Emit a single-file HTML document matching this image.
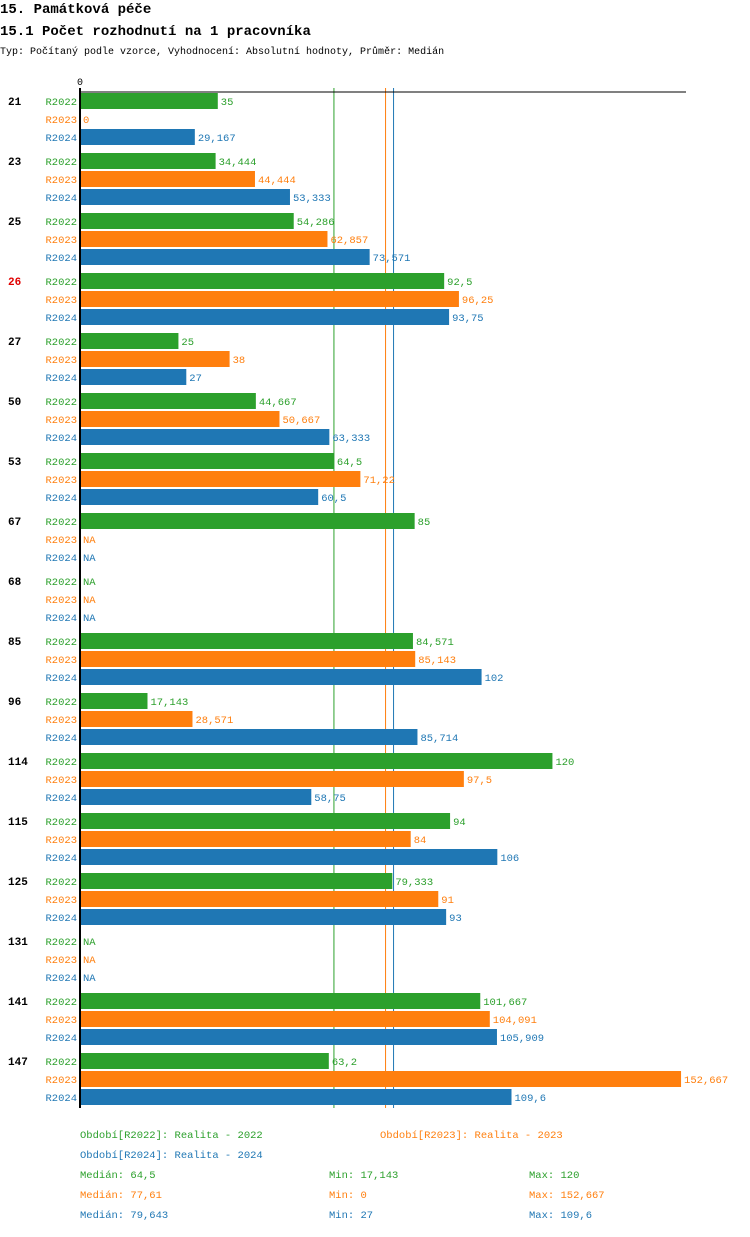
<!DOCTYPE html>
<html><head><meta charset="utf-8"><style>
body{margin:0;background:#fff;width:750px;height:1232px;overflow:hidden}
svg{font-family:"Liberation Mono","DejaVu Sans Mono",monospace}
</style></head><body>
<svg id="c" width="750" height="1232" xmlns="http://www.w3.org/2000/svg">
<text x="0" y="13" font-size="14" font-weight="bold">15. Památková péče</text>
<text x="0" y="35" font-size="14" font-weight="bold">15.1 Počet rozhodnutí na 1 pracovníka</text>
<text x="0" y="54" font-size="10">Typ: Počítaný podle vzorce, Vyhodnocení: Absolutní hodnoty, Průměr: Medián</text>
<g id="g"></g>
</svg>
<script>
const categories=["21","23","25","26","27","50","53","67","68","85","96","114","115","125","131","141","147"];
const highlighted=["26"];
const seriesNames=["R2022","R2023","R2024"];
const r2022=[35,34.444,54.286,92.5,25,44.667,64.5,85,null,84.571,17.143,120,94,79.333,null,101.667,63.2];
const r2023=[0,44.444,62.857,96.25,38,50.667,71.22,null,null,85.143,28.571,97.5,84,91,null,104.091,152.667];
const r2024=[29.167,53.333,73.571,93.75,27,63.333,60.5,null,null,102,85.714,58.75,106,93,null,105.909,109.6];
const medians=[64.5,77.61,79.643];
const mins=["17,143","0","27"];
const maxs=["120","152,667","109,6"];
const legendLabels=["Období[R2022]: Realita - 2022","Období[R2023]: Realita - 2023","Období[R2024]: Realita - 2024"];
const colors=["#2ca02c","#ff7f0e","#1f77b4"];
const series=[r2022,r2023,r2024];
const NS="http://www.w3.org/2000/svg";
const g=document.getElementById('g');
const x0=80,k=3.937;
const xs=v=>x0+v*k;
const yRow=(i,s)=>93+i*60+s*18;
function el(t,a,txt){const e=document.createElementNS(NS,t);for(const n in a)e.setAttribute(n,a[n]);if(txt!=null)e.textContent=txt;g.appendChild(e);return e;}
const fmt=v=>String(v).replace('.',',');
let e;
const yEnd=yRow(categories.length-1,2)+19;
medians.forEach((m,s)=>{
  e=el('line',{x1:xs(m),y1:88,x2:xs(m),y2:yEnd,stroke:colors[s],'stroke-width':1});
  
  
});
e=el('line',{x1:x0,y1:92,x2:686,y2:92,stroke:'#000','stroke-width':1});


e=el('text',{x:x0-3,y:85,'font-size':10},'0');


categories.forEach((c,i)=>{
  e=el('text',{x:8,y:yRow(i,0)+12,'font-size':11,'font-weight':'bold',fill:highlighted.includes(c)?'#e00000':'#000'},c);
  
  
  series.forEach((sv,s)=>{
    const y=yRow(i,s),v=sv[i];
    e=el('text',{x:x0-3,y:y+12,'font-size':10.5,fill:colors[s],'text-anchor':'end'},seriesNames[s]);
    
    
    if(v!=null){
      e=el('rect',{x:x0,y:y,width:Math.max(0,xs(v)-x0),height:16,fill:colors[s]});
      
      
    }
    e=el('text',{x:(v!=null?xs(v):x0)+3,y:y+12,'font-size':10.5,fill:colors[s]},v!=null?fmt(v):'NA');
    
    
  });
});
e=el('line',{x1:x0,y1:88,x2:x0,y2:yEnd,stroke:'#000','stroke-width':2});


const lp=[[80,1138],[380,1138],[80,1158]];
legendLabels.forEach((l,s)=>{
  e=el('text',{x:lp[s][0],y:lp[s][1],'font-size':10.5,fill:colors[s]},l);
  
  
});
medians.forEach((m,s)=>{
  const y=1178+s*20;
  e=el('text',{x:80,y:y,'font-size':10.5,fill:colors[s]},'Medián: '+fmt(m));
  
  
  e=el('text',{x:329,y:y,'font-size':10.5,fill:colors[s]},'Min: '+mins[s]);
  
  
  e=el('text',{x:529,y:y,'font-size':10.5,fill:colors[s]},'Max: '+maxs[s]);
  
  
});
</script>
</body></html>
